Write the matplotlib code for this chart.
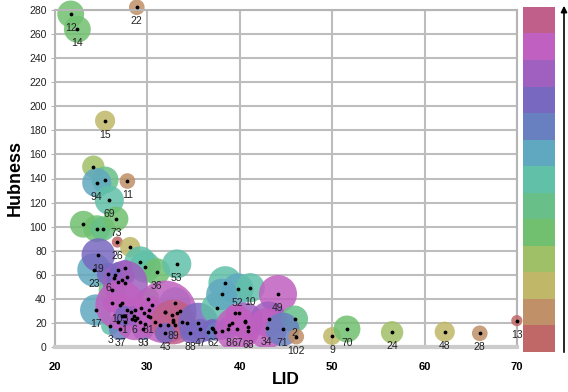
import numpy as np
import matplotlib.pyplot as plt
from matplotlib.colors import ListedColormap
from matplotlib.patches import Rectangle, FancyArrowPatch

plt.rcParams['font.family'] = ['Liberation Sans', 'DejaVu Sans']

# colour levels of the legend bar, bottom -> top
level_colors = ['#c06868', '#c09068', '#c0b868', '#a0c068', '#70c070', '#68c088', '#60c0a8',
                '#60a8c0', '#6880c0', '#7868c0', '#a060c0', '#c060c0', '#c0608a']

# one entry per data set: label, LID, hubness, bubble weight, colour level
labels = ['12', '14', '22', '15', '', '', '94', '11', '69', '', '', '', '73', '26', '',
          '23', '19',
          '', '', '36', '53', '', '', '', '17', '6',
          '', '', '', '', '', '', '', '',
          '', '', '', '', '', '', '', '', '', '', '', '', '', '', '', '',
          '3', '37', '93', '105', '', '1', '6', '81',
          '', '', '', '', '', '', '', '', '', '', '', '', '', '89', '43',
          '', '', '', '', '88', '47', '62', '8', '', '', '', '', '',
          '52', '10', '49',
          '', '', '', '', '', '', '67', '68', '', '34', '2', '71', '102',
          '9', '70', '24', '48', '28', '13']
lid = [21.70, 22.42, 28.85, 25.42, 24.15, 25.42, 24.52, 27.83, 25.88, 23.07, 24.52, 25.17, 26.61, 26.75, 28.13,
       24.23, 24.69,
       29.21, 29.75, 31.00, 33.18, 26.18, 30.10, 33.00, 24.41, 25.74,
       27.58, 26.50, 26.79, 27.58, 27.23, 27.77, 26.42, 26.86,
       26.14, 27.23, 27.77, 28.23, 28.67, 29.32, 29.67, 28.85, 28.31, 29.21, 29.75, 27.58, 27.23, 26.86, 30.18, 30.48,
       25.96, 27.04, 29.53, 27.04, 28.67, 27.53, 28.56, 30.08,
       31.92, 31.92, 32.64, 33.18, 33.54, 32.82, 33.73, 33.00, 32.27, 34.27, 31.38, 30.83, 30.29, 32.78, 31.92,
       35.50, 37.52, 38.42, 38.06, 34.63, 35.71, 37.12, 38.74, 36.61, 36.98, 37.33, 38.06, 38.78,
       39.79, 41.13, 44.13,
       40.58, 39.43, 39.86, 39.14, 40.58, 40.88, 39.72, 40.94, 43.11, 42.93, 45.93, 44.63, 46.11,
       49.98, 51.60, 56.48, 62.18, 65.97, 69.98]
hubness = [276.7, 264.0, 282.3, 188.0, 149.8, 138.8, 136.5, 137.9, 121.9, 102.0, 98.3, 98.3, 106.4, 87.2, 83.1,
           64.0, 76.4,
           70.6, 66.5, 62.6, 69.0, 47.4, 40.0, 36.6, 30.7, 60.7,
           53.2, 59.8, 64.0, 65.9, 55.7, 58.4, 57.1, 53.8,
           36.3, 36.3, 30.7, 28.8, 30.7, 32.7, 28.0, 23.8, 23.3, 20.5, 18.9, 21.0, 26.0, 21.0, 30.7, 34.9,
           17.4, 15.0, 15.0, 34.9, 22.4, 25.8, 25.8, 25.8,
           29.1, 28.8, 26.6, 28.0, 29.9, 22.4, 21.0, 18.3, 18.3, 19.7, 18.3, 21.0, 25.2, 20.8, 11.6,
           20.0, 32.4, 53.2, 43.8, 11.6, 15.0, 15.0, 15.0, 12.2, 15.5, 12.7, 13.3, 18.3,
           48.2, 49.3, 44.0,
           22.0, 28.0, 28.0, 20.2, 21.0, 16.4, 15.0, 13.5, 23.0, 15.5, 23.3, 14.7, 8.6,
           9.1, 15.0, 12.2, 12.7, 11.4, 21.9]
weight = [144, 144, 49, 81, 100, 144, 169, 49, 169, 144, 144, 121, 121, 25, 81,
          225, 225,
          196, 196, 144, 169, 144, 100, 196, 196, 100,
          400, 49, 49, 49, 49, 49, 49, 49,
          64, 64, 64, 64, 64, 64, 64, 64, 64, 64, 64, 64, 64, 64, 64, 64,
          64, 100, 100, 484, 324, 81, 81, 81,
          784, 64, 64, 64, 64, 64, 64, 64, 64, 64, 64, 64, 64, 400, 81,
          324, 196, 225, 196, 81, 81, 81, 81, 64, 64, 64, 64, 64,
          196, 169, 289,
          256, 64, 64, 64, 64, 64, 400, 100, 256, 324, 144, 225, 49,
          64, 144, 100, 81, 49, 25]
level = [4, 4, 1, 2, 3, 5, 7, 1, 6, 4, 4, 5, 4, 0, 2,
         7, 9,
         6, 6, 4, 6, 5, 5, 7, 7, 9,
         10, 10, 9, 10, 10, 10, 9, 10,
         11, 11, 11, 11, 11, 11, 11, 11, 11, 11, 11, 11, 11, 11, 11, 11,
         6, 8, 8, 11, 11, 9, 10, 9,
         11, 11, 12, 12, 12, 12, 12, 12, 12, 11, 11, 11, 11, 12, 9,
         9, 6, 6, 7, 9, 9, 8, 9, 9, 9, 8, 9, 9,
         7, 6, 11,
         10, 11, 11, 11, 11, 11, 11, 11, 10, 11, 5, 8, 1,
         2, 4, 3, 2, 1, 0]

fig = plt.figure(figsize=(5.68, 3.92), dpi=100)
ax = fig.add_axes([55 / 568, 45 / 392, 462 / 568, 337 / 392])

# bubbles may stick out above the frame but are cut at the x axis
clip = Rectangle((-0.2, 0), 1.4, 1.3, transform=ax.transAxes, visible=False)
ax.add_patch(clip)

for i in range(len(lid)):
    z = 2 + i * 0.01
    sc = ax.scatter(lid[i], hubness[i], s=weight[i] * 2.6, color=level_colors[level[i]],
                    alpha=0.85, edgecolors='none', zorder=z)
    sc.set_clip_path(clip)
    if labels[i]:
        ax.annotate(labels[i], (lid[i], hubness[i]), xytext=(0, -10), textcoords='offset points',
                    ha='center', va='center', fontsize=7.5, color='#222222',
                    zorder=9, annotation_clip=False)

dots = ax.scatter(lid, hubness, s=3, color='black', zorder=10)
dots.set_clip_path(clip)

ax.set_xlim(20, 70)
ax.set_ylim(0, 280)
ax.set_xticks(range(20, 71, 10))
ax.set_yticks(range(0, 281, 20))
ax.grid(True, color='#bdbdbd', linewidth=1.5)
ax.set_axisbelow(True)
for side in ['left', 'top', 'right']:
    ax.spines[side].set_color('#b5b5b5')
    ax.spines[side].set_linewidth(1.5)
ax.spines['bottom'].set_color('#cccccc')
ax.spines['bottom'].set_linewidth(3)

ax.tick_params(axis='x', length=0, pad=11, labelsize=8)
ax.tick_params(axis='y', length=3, color='#b5b5b5', pad=3, labelsize=7.5, labelcolor='#222222')
for t in ax.get_xticklabels():
    t.set_fontweight('bold')

ax.set_xlabel('LID', fontsize=12.5, fontweight='bold', labelpad=0)
ax.set_ylabel('Hubness', fontsize=13, fontweight='bold', labelpad=4)

# legend bar
cax = fig.add_axes([523 / 568, 40 / 392, 32 / 568, 345 / 392])
cax.imshow(np.arange(len(level_colors))[::-1].reshape(-1, 1), cmap=ListedColormap(level_colors),
           aspect='auto', interpolation='nearest')
cax.set_xticks([])
cax.set_yticks([])
for s in cax.spines.values():
    s.set_visible(False)

fig.add_artist(FancyArrowPatch((564 / 568, 37 / 392), (564 / 568, 389 / 392), transform=fig.transFigure,
                               arrowstyle='-|>', mutation_scale=9, color='black', lw=1.2))

plt.savefig('out.png', dpi=100)
